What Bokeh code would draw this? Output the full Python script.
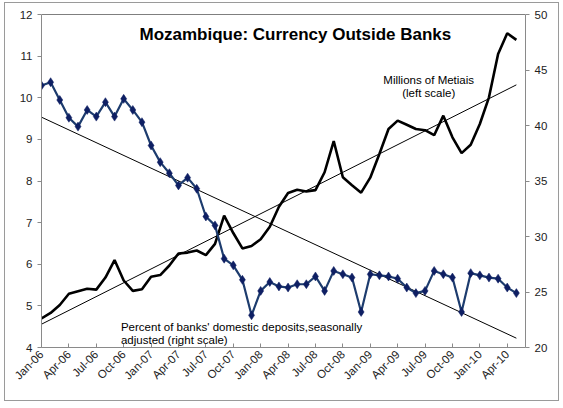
from math import pi
from bokeh.plotting import figure
from bokeh.models import Range1d, LinearAxis, FixedTicker, Label, ColumnDataSource
from bokeh.embed import file_html
from bokeh.resources import INLINE

# ---- data ----
month_names = ["Jan", "Feb", "Mar", "Apr", "May", "Jun",
               "Jul", "Aug", "Sep", "Oct", "Nov", "Dec"]
years = ["06", "07", "08", "09", "10"]
months = [f"{m}-{y}" for y in years for m in month_names][:53]   # Jan-06 .. May-10

# Currency outside banks, millions of Metiais (left scale)
currency = [4.70, 4.83, 5.02, 5.29, 5.35, 5.41, 5.39, 5.68, 6.10, 5.61, 5.36, 5.40,
            5.70, 5.74, 5.97, 6.26, 6.28, 6.33, 6.22, 6.49, 7.17, 6.75, 6.38, 6.44,
            6.60, 6.90, 7.38, 7.71, 7.79, 7.75, 7.78, 8.21, 8.96, 8.09, 7.90, 7.72,
            8.08, 8.65, 9.25, 9.45, 9.35, 9.25, 9.22, 9.10, 9.57, 9.05, 8.67, 8.87,
            9.37, 10.01, 11.05, 11.55, 11.39]

# Percent of banks' domestic deposits, seasonally adjusted (right scale)
deposits = [43.6, 43.9, 42.3, 40.7, 39.9, 41.4, 40.8, 42.1, 40.8, 42.4, 41.4, 40.3,
            38.2, 36.7, 35.7, 34.6, 35.3, 34.3, 31.8, 31.0, 28.0, 27.4, 26.1, 22.9,
            25.1, 25.9, 25.5, 25.4, 25.7, 25.7, 26.4, 25.1, 26.9, 26.6, 26.3, 23.2,
            26.6, 26.5, 26.4, 26.2, 25.4, 24.9, 25.1, 26.9, 26.6, 26.3, 23.2, 26.7,
            26.5, 26.3, 26.2, 25.4, 24.9]

# linear trend lines (start, end values)
currency_trend = [4.56, 10.31]
deposits_trend = [40.75, 20.84]

tick_labels = months[::3]   # Jan-06, Apr-06, ... Apr-10

# ---- figure ----
idx = list(range(len(months)))
tick_pos = idx[::3]
trend_x = [idx[0], idx[-1]]

FONT = "Liberation Sans"

p = figure(width=555, height=399, output_backend="svg", toolbar_location=None,
           x_range=Range1d(0, 53), y_range=Range1d(4, 12),
           min_border_left=36, min_border_right=35, min_border_top=11,
           min_border_bottom=55, background_fill_color="white",
           border_fill_color="white", outline_line_color=None,
           styles={"border": "1px solid #9a9a9a", "margin-left": "4px",
                   "margin-top": "2px"})
p.extra_y_ranges = {"right": Range1d(20, 50)}
p.xgrid.visible = False
p.ygrid.visible = False

# top frame line
p.line(x=[0, 53], y=[12, 12], line_color="black", line_width=1.2)

src = ColumnDataSource(dict(x=idx, cur=currency, dep=deposits))

# trend lines
p.line(x=trend_x, y=currency_trend, line_color="black", line_width=1)
p.line(x=trend_x, y=deposits_trend, line_color="black", line_width=1,
       y_range_name="right")

# series
p.line("x", "cur", source=src, line_color="black", line_width=2.6)
p.line("x", "dep", source=src, line_color="#1d3c6e", line_width=2.2,
       y_range_name="right")
p.scatter("x", "dep", source=src, marker="diamond", size=9,
          fill_color="#0e1f63", line_color="#0e1f63", line_width=0.5,
          y_range_name="right")

# axes
ax_col = "#8a8a8a"
xa = p.xaxis[0]
xa.ticker = FixedTicker(ticks=tick_pos)
xa.major_label_overrides = {t: lab for t, lab in zip(tick_pos, tick_labels)}
xa.major_label_orientation = pi / 4
xa.major_tick_in = 4
xa.major_tick_out = 0
xa.minor_tick_line_color = None
xa.axis_line_color = ax_col
xa.major_tick_line_color = ax_col
xa.major_label_text_font = FONT
xa.major_label_text_font_size = "11.5px"
xa.major_label_text_color = "#222222"
xa.major_label_standoff = 5

ya = p.yaxis[0]
ya.ticker = FixedTicker(ticks=list(range(4, 13)))
ya.major_tick_in = 0
ya.major_tick_out = 4
ya.minor_tick_line_color = None
ya.axis_line_color = ax_col
ya.major_tick_line_color = ax_col
ya.major_label_text_font = FONT
ya.major_label_text_font_size = "11.5px"
ya.major_label_text_color = "#222222"
ya.major_label_standoff = 5

ra = LinearAxis(y_range_name="right", ticker=FixedTicker(ticks=[20, 25, 30, 35, 40, 45, 50]))
ra.major_tick_in = 0
ra.major_tick_out = 4
ra.minor_tick_line_color = None
ra.axis_line_color = ax_col
ra.major_tick_line_color = ax_col
ra.major_label_text_font = FONT
ra.major_label_text_font_size = "11.5px"
ra.major_label_text_color = "#222222"
ra.major_label_standoff = 5
p.add_layout(ra, "right")

# texts
p.add_layout(Label(x=27.8, y=11.51, text="Mozambique: Currency Outside Banks",
                   text_font=FONT, text_font_size="17px", text_font_style="bold",
                   text_align="center", text_baseline="middle", text_color="black"))
p.add_layout(Label(x=42.4, y=10.43, text="Millions of Metiais",
                   text_font=FONT, text_font_size="11.5px",
                   text_align="center", text_baseline="middle", text_color="black"))
p.add_layout(Label(x=42.4, y=10.12, text="(left scale)",
                   text_font=FONT, text_font_size="11.5px",
                   text_align="center", text_baseline="middle", text_color="black"))
p.add_layout(Label(x=8.7, y=4.49, text="Percent of banks' domestic deposits,seasonally",
                   text_font=FONT, text_font_size="11.5px",
                   text_align="left", text_baseline="middle", text_color="black"))
p.add_layout(Label(x=8.7, y=4.17, text="adjusted (right scale)",
                   text_font=FONT, text_font_size="11.5px",
                   text_align="left", text_baseline="middle", text_color="black"))

open("out.html", "w").write(file_html(p, INLINE))
